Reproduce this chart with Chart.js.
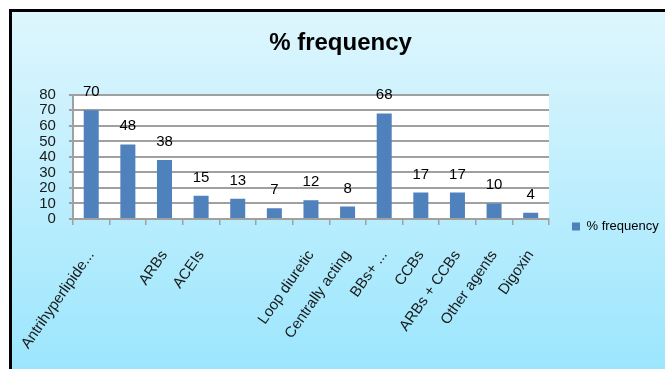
<!DOCTYPE html>
<html>
<head>
<meta charset="utf-8">
<script src="https://cdn.jsdelivr.net/npm/chart.js@4.4.1/dist/chart.umd.min.js"></script>
<style>
html,body{margin:0;padding:0;background:#fff;overflow:hidden}
#wrap{width:665px;height:369px;position:relative}
</style>
</head>
<body>
<div id="wrap"><canvas id="c" width="665" height="369"></canvas></div>
<script>
const categories = ["Antrihyperlipide...", "", "ARBs", "ACEIs", "", "", "Loop diuretic", "Centrally acting", "BBs+ ...", "CCBs", "ARBs + CCBs", "Other agents", "Digoxin"];
const frequency = [70, 48, 38, 15, 13, 7, 12, 8, 68, 17, 17, 10, 4];
const yTickValues = [0, 10, 20, 30, 40, 50, 60, 70, 80];
const seriesName = "% frequency";
const chartTitle = "% frequency";

const FONT = "'Liberation Sans', Arial, sans-serif";

const bgPlugin = {
  id: 'bg',
  beforeDraw(chart) {
    const {ctx, width, height, chartArea} = chart;
    ctx.save();
    ctx.fillStyle = '#ffffff';
    ctx.fillRect(0, 0, width, height);
    ctx.fillStyle = '#000000';
    ctx.fillRect(9, 9, width - 9, height - 9);
    const g = ctx.createLinearGradient(0, 12, 0, height);
    g.addColorStop(0, '#def6fd');
    g.addColorStop(1, '#9ce6fd');
    ctx.fillStyle = g;
    ctx.fillRect(12, 12, width - 12, height - 12);
    ctx.fillStyle = '#ffffff';
    ctx.fillRect(chartArea.left, chartArea.top, chartArea.right - chartArea.left, chartArea.bottom - chartArea.top);
    ctx.restore();
  }
};

const valueLabels = {
  id: 'valueLabels',
  afterDatasetsDraw(chart) {
    const {ctx} = chart;
    const meta = chart.getDatasetMeta(0);
    ctx.save();
    ctx.font = "15px " + FONT;
    ctx.fillStyle = '#000';
    ctx.textAlign = 'center';
    ctx.textBaseline = 'alphabetic';
    meta.data.forEach((el, i) => {
      ctx.fillText(String(chart.data.datasets[0].data[i]), el.x, el.y - 14);
    });
    ctx.restore();
  }
};

new Chart(document.getElementById('c'), {
  type: 'bar',
  data: {
    labels: categories,
    datasets: [{
      label: seriesName,
      data: frequency,
      backgroundColor: '#4f81bd',
      borderWidth: 0,
      categoryPercentage: 1,
      barPercentage: 0.41
    }]
  },
  options: {
    responsive: false,
    animation: false,
    events: [],
    layout: { padding: { left: 16, right: 0, top: 0, bottom: 0 } },
    plugins: {
      title: {
        display: true,
        text: chartTitle,
        color: '#000',
        font: { family: FONT, size: 24, weight: 'bold' },
        padding: { top: 29, bottom: 37 }
      },
      legend: {
        display: true,
        position: 'right',
        align: 'center',
        maxWidth: 116,
        title: {
          display: true,
          text: ' ',
          font: { family: FONT, size: 10 },
          padding: { top: 72, bottom: 0 }
        },
        labels: {
          color: '#000',
          font: { family: FONT, size: 13 },
          boxWidth: 8,
          boxHeight: 8,
          padding: 23
        }
      },
      tooltip: { enabled: false }
    },
    scales: {
      x: {
        grid: { display: true, drawOnChartArea: false, drawTicks: true, tickLength: 6, color: '#a0a0a0', lineWidth: 1.5, offset: true },
        border: { display: true, color: '#a0a0a0', width: 2 },
        ticks: {
          autoSkip: false,
          minRotation: 55,
          maxRotation: 55,
          padding: 22,
          color: '#1a1a1a',
          font: { family: FONT, size: 15 }
        },
        afterFit(scale) { scale.height = 150; }
      },
      y: {
        min: 0,
        max: 80,
        grid: { color: '#a0a0a0', lineWidth: 2, tickLength: 4, drawTicks: true },
        border: { display: true, color: '#a0a0a0', width: 2 },
        afterBuildTicks(scale) { scale.ticks = yTickValues.map(v => ({ value: v })); },
        ticks: {
          autoSkip: false,
          padding: 13,
          color: '#1a1a1a',
          font: { family: FONT, size: 15 }
        },
        afterFit(scale) { scale.width = 56; }
      }
    }
  },
  plugins: [bgPlugin, valueLabels]
});
</script>
</body>
</html>
